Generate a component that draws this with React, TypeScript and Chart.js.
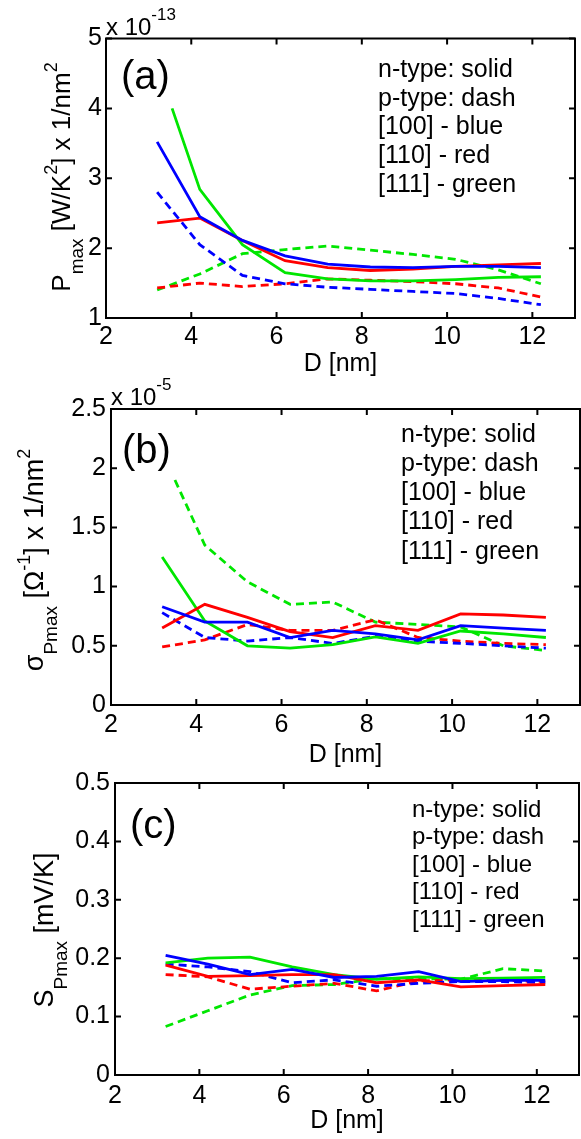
import React, { useEffect, useRef } from 'react';
import { Chart, registerables } from 'chart.js';

Chart.register(...registerables);

const FONT = "'Liberation Sans', Arial, Helvetica, sans-serif";

// ---------- data ----------
const diameters = [3.2, 4.2, 5.2, 6.2, 7.2, 8.2, 9.2, 10.2, 11.2, 12.2];
const xTicks = [2, 4, 6, 8, 10, 12];
const xTickLabels = ['2', '4', '6', '8', '10', '12'];

// (a) Pmax  [x 1e-13 W/K^2 per nm^2]
const aN111X = [3.55, 4.2, 5.2, 6.2, 7.2, 8.2, 9.2, 10.2, 11.2, 12.2];
const aN100 = [3.52, 2.45, 2.11, 1.89, 1.77, 1.73, 1.72, 1.74, 1.74, 1.72];
const aN110 = [2.36, 2.43, 2.11, 1.82, 1.72, 1.68, 1.70, 1.74, 1.76, 1.78];
const aN111 = [4.0, 2.84, 2.05, 1.65, 1.56, 1.53, 1.53, 1.55, 1.58, 1.59];
const aP100 = [2.80, 2.05, 1.61, 1.49, 1.44, 1.41, 1.38, 1.35, 1.28, 1.19];
const aP110 = [1.43, 1.50, 1.45, 1.49, 1.56, 1.54, 1.52, 1.49, 1.43, 1.30];
const aP111 = [1.40, 1.63, 1.92, 1.98, 2.03, 1.97, 1.91, 1.84, 1.69, 1.49];
const aYTicks = [1, 2, 3, 4, 5];
const aYTickLabels = ['1', '2', '3', '4', '5'];

// (b) sigma at Pmax [x 1e-5 1/Ohm per nm^2]
const bP111X = [3.5, 4.2, 5.2, 6.2, 7.2, 8.2, 9.2, 10.2, 11.2, 12.2];
const bN100 = [0.83, 0.70, 0.70, 0.57, 0.63, 0.60, 0.55, 0.67, 0.65, 0.63];
const bN110 = [0.65, 0.85, 0.74, 0.62, 0.57, 0.67, 0.63, 0.77, 0.76, 0.74];
const bN111 = [1.25, 0.71, 0.50, 0.48, 0.51, 0.575, 0.52, 0.625, 0.60, 0.57];
const bP100 = [0.78, 0.57, 0.54, 0.57, 0.52, 0.58, 0.54, 0.52, 0.50, 0.48];
const bP110 = [0.49, 0.55, 0.68, 0.63, 0.63, 0.72, 0.57, 0.54, 0.52, 0.51];
const bP111 = [1.90, 1.35, 1.04, 0.85, 0.87, 0.70, 0.68, 0.66, 0.50, 0.46];
const bYTicks = [0, 0.5, 1, 1.5, 2, 2.5];
const bYTickLabels = ['0', '0.5', '1', '1.5', '2', '2.5'];

// (c) S at Pmax [mV/K]
const cN100 = [0.205, 0.19, 0.172, 0.181, 0.167, 0.169, 0.177, 0.160, 0.162, 0.162];
const cN110 = [0.188, 0.169, 0.170, 0.172, 0.172, 0.158, 0.163, 0.151, 0.153, 0.155];
const cN111 = [0.192, 0.200, 0.202, 0.185, 0.172, 0.164, 0.168, 0.165, 0.166, 0.167];
const cP100 = [0.190, 0.185, 0.177, 0.158, 0.163, 0.152, 0.157, 0.160, 0.160, 0.158];
const cP110 = [0.172, 0.168, 0.147, 0.152, 0.157, 0.144, 0.161, 0.163, 0.162, 0.160];
const cP111 = [0.083, 0.110, 0.137, 0.153, 0.155, 0.165, 0.165, 0.164, 0.182, 0.178];
const cYTicks = [0, 0.1, 0.2, 0.3, 0.4, 0.5];
const cYTickLabels = ['0', '0.1', '0.2', '0.3', '0.4', '0.5'];

const legendLines = ['n-type: solid', 'p-type: dash', '[100] - blue', '[110] - red', '[111] - green'];

// ---------- styles ----------
const BLUE = '#0000ff';
const RED = '#ff0000';
const GREEN = '#00e600';

type Seg = { t: string; size: number; dy: number };

function makeSeries(n100: number[], n110: number[], n111: number[], p100: number[], p110: number[], p111: number[], n111x: number[], p111x: number[]) {
  return [
    { xs: diameters, ys: n100, color: BLUE, dash: false },
    { xs: diameters, ys: n110, color: RED, dash: false },
    { xs: n111x, ys: n111, color: GREEN, dash: false },
    { xs: diameters, ys: p100, color: BLUE, dash: true },
    { xs: diameters, ys: p110, color: RED, dash: true },
    { xs: p111x, ys: p111, color: GREEN, dash: true },
  ];
}

const panels = [
  {
    top: 0, height: 380, left: 106, padTop: 38.5, padRight: 6, xAxisH: 62, xTitlePad: 1, xTickPad: 4, yTickPad: 4,
    yMin: 1, yMax: 5, yTicks: aYTicks, yTickLabels: aYTickLabels,
    series: makeSeries(aN100, aN110, aN111, aP100, aP110, aP111, aN111X, diameters),
    label: '(a)', labelX: 121, labelY: 78,
    legendX: 378, legendY: 70, legendStep: 28.7, legendSize: 25,
    expo: { x: 106, y: 35, base: 'x 10', sup: '-13' },
    yTitle: { x: 70, y: 177, segs: [
      { t: 'P', size: 26, dy: 0 }, { t: 'max', size: 19, dy: 13 }, { t: ' [W/K', size: 26, dy: 0 },
      { t: '2', size: 18, dy: -13 }, { t: '] x 1/nm', size: 26, dy: 0 }, { t: '2', size: 18, dy: -13 },
    ] as Seg[] },
  },
  {
    top: 370, height: 400, left: 111, padTop: 39, padRight: 1, xAxisH: 65, xTitlePad: 0, xTickPad: 5, yTickPad: 5,
    yMin: 0, yMax: 2.5, yTicks: bYTicks, yTickLabels: bYTickLabels,
    series: makeSeries(bN100, bN110, bN111, bP100, bP110, bP111, diameters, bP111X),
    label: '(b)', labelX: 122, labelY: 82,
    legendX: 401, legendY: 65, legendStep: 29.2, legendSize: 25,
    expo: { x: 111, y: 35, base: 'x 10', sup: '-5' },
    yTitle: { x: 43, y: 190, segs: [
      { t: 'σ', size: 27, dy: 0 }, { t: 'Pmax', size: 19, dy: 14 }, { t: ' [Ω', size: 27, dy: 0 },
      { t: '-1', size: 18, dy: -13 }, { t: '] x 1/nm', size: 27, dy: 0 }, { t: '2', size: 18, dy: -13 },
    ] as Seg[] },
  },
  {
    top: 760, height: 379, left: 115, padTop: 23, padRight: 2, xAxisH: 64, xTitlePad: 3, xTickPad: 6, yTickPad: 5,
    yMin: 0, yMax: 0.5, yTicks: cYTicks, yTickLabels: cYTickLabels,
    series: makeSeries(cN100, cN110, cN111, cP100, cP110, cP111, diameters, diameters),
    label: '(c)', labelX: 130, labelY: 67,
    legendX: 412, legendY: 50, legendStep: 27.5, legendSize: 24,
    expo: null as null | { x: number; y: number; base: string; sup: string },
    yTitle: { x: 53, y: 170, segs: [
      { t: 'S', size: 27, dy: 0 }, { t: 'Pmax', size: 19, dy: 14 }, { t: ' [mV/K]', size: 27, dy: 0 },
    ] as Seg[] },
  },
];

type PanelCfg = typeof panels[number];

function drawSegs(ctx: CanvasRenderingContext2D, segs: Seg[], startX: number) {
  let x = startX;
  for (const s of segs) {
    ctx.font = `${s.size}px ${FONT}`;
    ctx.fillText(s.t, x, s.dy);
    x += ctx.measureText(s.t).width;
  }
}

function segsWidth(ctx: CanvasRenderingContext2D, segs: Seg[]) {
  let w = 0;
  for (const s of segs) {
    ctx.font = `${s.size}px ${FONT}`;
    w += ctx.measureText(s.t).width;
  }
  return w;
}

function makeFramePlugin(cfg: PanelCfg) {
  return {
    id: 'frame',
    afterDraw(chart: any) {
      const ctx: CanvasRenderingContext2D = chart.ctx;
      const { left, right, top, bottom } = chart.chartArea;
      const xs = chart.scales.x;
      const ys = chart.scales.y;
      ctx.save();
      ctx.strokeStyle = '#000';
      ctx.lineWidth = 2;
      ctx.strokeRect(left, top, right - left, bottom - top);
      const tl = 6;
      ctx.beginPath();
      for (const v of xTicks) {
        const px = xs.getPixelForValue(v);
        ctx.moveTo(px, bottom); ctx.lineTo(px, bottom - tl);
        ctx.moveTo(px, top); ctx.lineTo(px, top + tl);
      }
      for (const v of cfg.yTicks) {
        const py = ys.getPixelForValue(v);
        ctx.moveTo(left, py); ctx.lineTo(left + tl, py);
        ctx.moveTo(right, py); ctx.lineTo(right - tl, py);
      }
      ctx.stroke();

      ctx.fillStyle = '#000';
      ctx.textAlign = 'left';
      ctx.textBaseline = 'middle';
      ctx.font = `40px ${FONT}`;
      ctx.fillText(cfg.label, cfg.labelX, cfg.labelY);
      ctx.font = `${cfg.legendSize}px ${FONT}`;
      legendLines.forEach((t, i) => ctx.fillText(t, cfg.legendX, cfg.legendY + i * cfg.legendStep));
      ctx.textBaseline = 'alphabetic';
      if (cfg.expo) {
        ctx.save();
        ctx.translate(cfg.expo.x, cfg.expo.y);
        drawSegs(ctx, [
          { t: cfg.expo.base, size: 24, dy: 0 },
          { t: cfg.expo.sup, size: 17, dy: -15 },
        ], 0);
        ctx.restore();
      }
      ctx.save();
      ctx.translate(cfg.yTitle.x, cfg.yTitle.y);
      ctx.rotate(-Math.PI / 2);
      const w = segsWidth(ctx, cfg.yTitle.segs);
      drawSegs(ctx, cfg.yTitle.segs, -w / 2);
      ctx.restore();
      ctx.restore();
    },
  };
}

function Panel({ cfg }: { cfg: PanelCfg }) {
  const ref = useRef<HTMLCanvasElement | null>(null);
  useEffect(() => {
    if (!ref.current) return;
    const chart = new Chart(ref.current, {
      type: 'line',
      data: {
        datasets: cfg.series.map((s) => ({
          data: s.xs.map((x, i) => ({ x, y: s.ys[i] })),
          borderColor: s.color,
          backgroundColor: s.color,
          borderWidth: 2.8,
          borderDash: s.dash ? [8, 5] : [],
          pointRadius: 0,
          fill: false,
          tension: 0,
        })),
      },
      options: {
        responsive: false,
        animation: false,
        events: [],
        layout: { padding: { left: 0, right: cfg.padRight, top: cfg.padTop, bottom: 0 } },
        plugins: { legend: { display: false }, tooltip: { enabled: false }, title: { display: false } },
        scales: {
          x: {
            type: 'linear',
            min: 2,
            max: 13,
            afterBuildTicks: (sc: any) => { sc.ticks = xTicks.map((v) => ({ value: v })); },
            afterFit: (sc: any) => { sc.height = cfg.xAxisH; },
            grid: { display: false, drawTicks: false },
            border: { display: false },
            ticks: {
              callback: (_v: any, i: number) => xTickLabels[i],
              font: { family: FONT, size: 25 },
              color: '#000',
              padding: cfg.xTickPad,
              maxRotation: 0,
              autoSkip: false,
            },
            title: {
              display: true,
              text: 'D [nm]',
              font: { family: FONT, size: 25 },
              color: '#000',
              padding: { top: 0, bottom: cfg.xTitlePad },
            },
          },
          y: {
            type: 'linear',
            min: cfg.yMin,
            max: cfg.yMax,
            afterBuildTicks: (sc: any) => { sc.ticks = cfg.yTicks.map((v) => ({ value: v })); },
            afterFit: (sc: any) => { sc.width = cfg.left; },
            grid: { display: false, drawTicks: false },
            border: { display: false },
            ticks: {
              callback: (_v: any, i: number) => cfg.yTickLabels[i],
              font: { family: FONT, size: 25 },
              color: '#000',
              padding: cfg.yTickPad,
              autoSkip: false,
            },
          },
        },
      },
      plugins: [makeFramePlugin(cfg)],
    } as any);
    return () => chart.destroy();
  }, [cfg]);
  return (
    <canvas
      ref={ref}
      width={581}
      height={cfg.height}
      style={{ position: 'absolute', left: 0, top: cfg.top, width: 581, height: cfg.height, display: 'block' }}
    />
  );
}

export default function App() {
  return (
    <div style={{ position: 'absolute', left: 0, top: 0, width: 581, height: 1139, background: '#fff', overflow: 'hidden' }}>
      {panels.map((p, i) => (
        <Panel key={i} cfg={p} />
      ))}
    </div>
  );
}
